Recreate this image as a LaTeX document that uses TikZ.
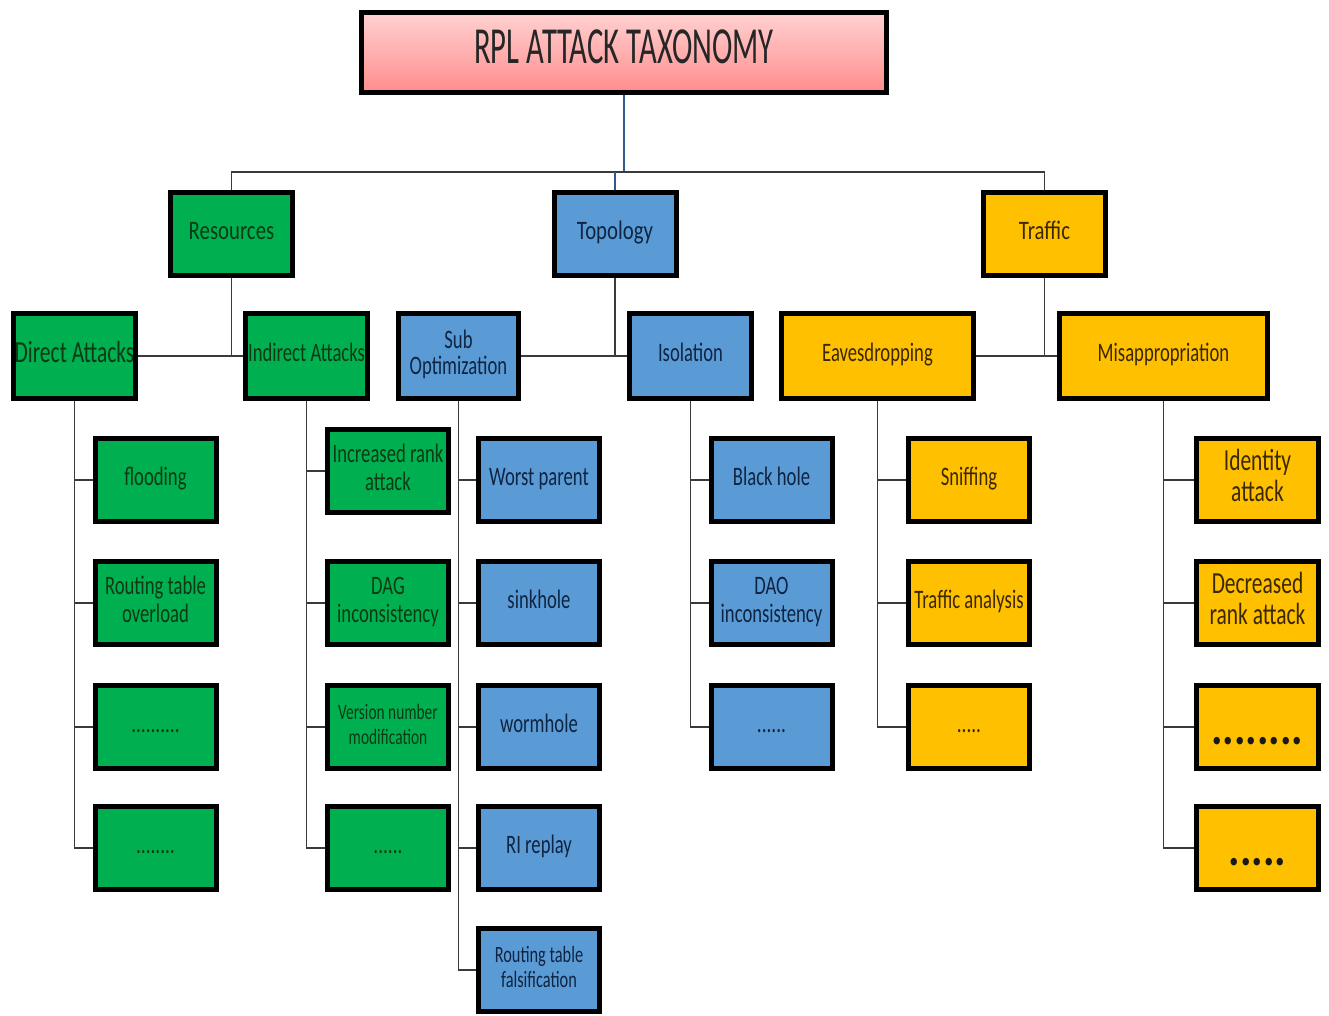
\documentclass[tikz,border=0pt]{standalone}
\usepackage{fontspec}
\usepackage{graphicx}
\setmainfont{Carlito}

\definecolor{grnfill}{HTML}{00B050}
\definecolor{grntext}{HTML}{0B3A14}
\definecolor{bluefill}{HTML}{5B9BD5}
\definecolor{bluetext}{HTML}{0E2442}
\definecolor{yelfill}{HTML}{FFC000}
\definecolor{yeltext}{HTML}{3A2800}
\definecolor{linkgray}{HTML}{3A3A3A}
\definecolor{linkblue}{HTML}{2F5A8A}

% squeezed text, as in the original figure
\newcommand{\sq}[2][0.72]{\scalebox{#1}[1]{\begin{tabular}{@{}c@{}}#2\end{tabular}}}
% low bold dots
\newcommand{\lowdots}[1]{\raisebox{-13pt}[0pt][0pt]{\scalebox{0.85}[1]{#1}}}

\tikzset{every picture/.style={line width=0.75pt}}
\tikzset{
  box/.style={draw=black, line width=3.75pt, inner sep=0pt, align=center},
  titlebox/.style={box, minimum width=393.75pt, minimum height=60pt, top color=red!18, bottom color=red!45!white, text=black!85, font=\fontsize{39}{40}\selectfont},
  catbox/.style={box, minimum width=91.5pt, minimum height=62.25pt, font=\fontsize{20}{21}\selectfont},
  subbox/.style={box, minimum width=91.5pt, minimum height=63.75pt, font=\fontsize{20}{20}\selectfont},
  leafbox/.style={box, minimum width=90.75pt, minimum height=62.25pt, font=\fontsize{20}{21}\selectfont},
  grn/.style={fill=grnfill, text=grntext},
  blu/.style={fill=bluefill, text=bluetext},
  yel/.style={fill=yelfill, text=yeltext},
  link/.style={draw=linkgray, line width=1pt},
  bigdots/.style={text=black!90, font=\bfseries\fontsize{38}{38}\selectfont}
}

\begin{document}
\begin{tikzpicture}[x=0.75pt,y=0.75pt,yscale=-1,xscale=1]
  \useasboundingbox (0,0) rectangle (1329,1015);

  % Title
  \node [titlebox] (title) at (624,52.5) {\sq[0.59]{RPL ATTACK TAXONOMY}};

  % Categories
  \node [catbox, grn] (res)  at (231.5,234)  {\sq[0.78]{Resources}};
  \node [catbox, blu] (topo) at (615,234)    {\sq[0.78]{Topology}};
  \node [catbox, yel] (traf) at (1044.5,234) {\sq[0.78]{Traffic}};

  % Sub categories
  \node [subbox, grn, font=\fontsize{23}{23}\selectfont] (direct) at (74.5,356) {\sq[0.7]{Direct Attacks}};
  \node [subbox, grn] (indirect) at (306.5,356) {\sq[0.7]{Indirect Attacks}};
  \node [subbox, blu, minimum width=90pt] (subopt) at (458.5,356) {\sq[0.7]{Sub\\Optimization}};
  \node [subbox, blu] (isol)     at (690.5,356) {\sq[0.7]{Isolation}};
  \node [subbox, yel, minimum width=144pt] (eaves)  at (877.5,356)  {\sq[0.7]{Eavesdropping}};
  \node [subbox, yel, minimum width=156pt] (misapp) at (1163.5,356) {\sq[0.7]{Misappropriation}};

  % Leaves: Direct Attacks
  \node [leafbox, grn] (dir1) at (155.5,480) {\sq[0.7]{flooding}};
  \node [leafbox, grn] (dir2) at (155.5,603) {\sq[0.7]{Routing table\\overload}};
  \node [leafbox, grn] (dir3) at (155.5,727) {\sq{..........}};
  \node [leafbox, grn] (dir4) at (155.5,848) {\sq{........}};

  % Leaves: Indirect Attacks
  \node [leafbox, grn] (ind1) at (388,471) {\sq[0.7]{Increased rank\\attack}};
  \node [leafbox, grn] (ind2) at (388,603) {\sq[0.7]{DAG\\inconsistency}};
  \node [leafbox, grn, font=\fontsize{16.5}{19}\selectfont] (ind3) at (388,727) {\sq[0.7]{Version number\\modification}};
  \node [leafbox, grn] (ind4) at (388,848) {\sq{......}};

  % Leaves: Sub Optimization
  \node [leafbox, blu] (sub1) at (539,480) {\sq[0.7]{Worst parent}};
  \node [leafbox, blu] (sub2) at (539,603) {\sq[0.7]{sinkhole}};
  \node [leafbox, blu] (sub3) at (539,727) {\sq[0.7]{wormhole}};
  \node [leafbox, blu] (sub4) at (539,848) {\sq[0.7]{RI replay}};
  \node [leafbox, blu, font=\fontsize{17.5}{19}\selectfont] (sub5) at (539,970) {\sq[0.7]{Routing table\\falsification}};

  % Leaves: Isolation
  \node [leafbox, blu] (iso1) at (771.5,480) {\sq[0.7]{Black hole}};
  \node [leafbox, blu] (iso2) at (771.5,603) {\sq[0.7]{DAO\\inconsistency}};
  \node [leafbox, blu] (iso3) at (771.5,727) {\sq{......}};

  % Leaves: Eavesdropping
  \node [leafbox, yel] (eav1) at (969,480) {\sq[0.7]{Sniffing}};
  \node [leafbox, yel] (eav2) at (969,603) {\sq[0.7]{Traffic analysis}};
  \node [leafbox, yel] (eav3) at (969,727) {\sq{.....}};

  % Leaves: Misappropriation
  \node [leafbox, yel, minimum width=91.5pt, font=\fontsize{23}{23.5}\selectfont] (mis1) at (1257.5,480) {\sq[0.7]{Identity\\attack}};
  \node [leafbox, yel, minimum width=91.5pt, font=\fontsize{23}{23.5}\selectfont] (mis2) at (1257.5,603) {\sq[0.7]{Decreased\\rank attack}};
  \node [leafbox, yel, minimum width=91.5pt, bigdots] (mis3) at (1257.5,727) {\lowdots{........}};
  \node [leafbox, yel, minimum width=91.5pt, bigdots] (mis4) at (1257.5,848) {\lowdots{.....}};

  % Title to categories
  \coordinate (hbar) at (0,172);
  \draw [draw=linkblue, line width=1.2pt] (title.south) -- (title.south |- hbar);
  \draw [link] (res.north) -- (res.north |- hbar) -- (traf.north |- hbar) -- (traf.north);
  \draw [draw=linkblue, line width=1.2pt] (topo.north |- hbar) -- (topo.north);

  % Categories to sub categories
  \draw [link] (res.south) -- (res.south |- indirect.west);
  \draw [link] (direct.east) -- (indirect.west);
  \draw [link] (topo.south) -- (topo.south |- isol.west);
  \draw [link] (subopt.east) -- (isol.west);
  \draw [link] (traf.south) -- (traf.south |- misapp.west);
  \draw [link] (eaves.east) -- (misapp.west);

  % Sub categories to leaves
  \draw [link] (direct.south) |- (dir1.west);
  \draw [link] (direct.south) |- (dir2.west);
  \draw [link] (direct.south) |- (dir3.west);
  \draw [link] (direct.south) |- (dir4.west);
  \draw [link] (indirect.south) |- (ind1.west);
  \draw [link] (indirect.south) |- (ind2.west);
  \draw [link] (indirect.south) |- (ind3.west);
  \draw [link] (indirect.south) |- (ind4.west);
  \draw [link] (subopt.south) |- (sub1.west);
  \draw [link] (subopt.south) |- (sub2.west);
  \draw [link] (subopt.south) |- (sub3.west);
  \draw [link] (subopt.south) |- (sub4.west);
  \draw [link] (subopt.south) |- (sub5.west);
  \draw [link] (isol.south) |- (iso1.west);
  \draw [link] (isol.south) |- (iso2.west);
  \draw [link] (isol.south) |- (iso3.west);
  \draw [link] (eaves.south) |- (eav1.west);
  \draw [link] (eaves.south) |- (eav2.west);
  \draw [link] (eaves.south) |- (eav3.west);
  \draw [link] (misapp.south) |- (mis1.west);
  \draw [link] (misapp.south) |- (mis2.west);
  \draw [link] (misapp.south) |- (mis3.west);
  \draw [link] (misapp.south) |- (mis4.west);
\end{tikzpicture}
\end{document}
